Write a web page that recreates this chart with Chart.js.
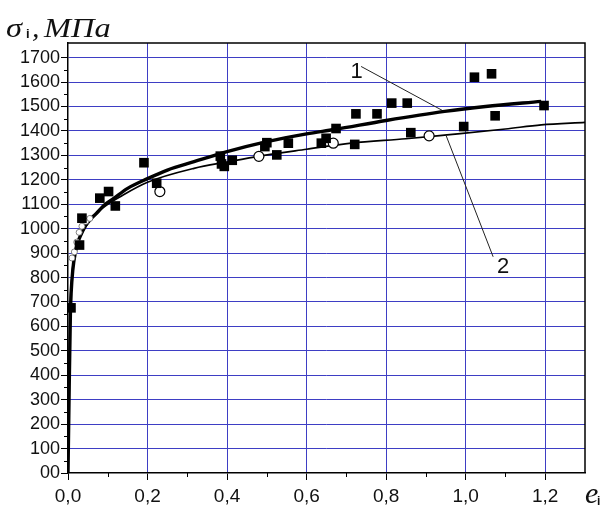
<!DOCTYPE html>
<html>
<head>
<meta charset="utf-8">
<script src="https://cdn.jsdelivr.net/npm/chart.js@4.4.0/dist/chart.umd.min.js"></script>
<style>
  html, body { margin: 0; padding: 0; background: #fff; }
</style>
</head>
<body>
<canvas id="chart" width="606" height="506"></canvas>
<script>
// ---- values ----

// black squares
const squareX = [0.0075, 0.029, 0.035, 0.080, 0.102, 0.119, 0.191, 0.223, 0.383, 0.386,
                 0.393, 0.413, 0.495, 0.500, 0.525, 0.554, 0.637, 0.649, 0.674, 0.721,
                 0.724, 0.777, 0.814, 0.853, 0.862, 0.995, 1.022, 1.065, 1.074, 1.197];
const squareY = [676, 933, 1043, 1125, 1152, 1093, 1270, 1186, 1297, 1265,
                 1255, 1280, 1336, 1352, 1302, 1350, 1350, 1370, 1410, 1345,
                 1470, 1470, 1514, 1514, 1393, 1418, 1620, 1634, 1462, 1504];

// open circles
const circleX = [0.231, 0.480, 0.667, 0.908];
const circleY = [1152, 1296, 1350, 1380];

// small open circles near the origin
const dotX = [0.010, 0.016, 0.022, 0.028, 0.035, 0.045, 0.055];
const dotY = [880, 905, 945, 985, 1010, 1030, 1042];

// curve 1 (thick)
const curve1X = [0, 0.003, 0.006, 0.008, 0.012, 0.018, 0.025, 0.031, 0.045, 0.06, 0.073, 0.09,
                 0.115, 0.15, 0.2, 0.25, 0.317, 0.4, 0.5, 0.6, 0.67, 0.8, 0.947, 1.05, 1.19];
const curve1Y = [0, 350, 650, 740, 830, 900, 945, 970, 1015, 1045, 1065, 1095,
                 1124, 1165, 1205, 1240, 1274, 1315, 1356, 1388, 1406, 1443, 1480, 1500, 1521];

// curve 2 (thin)
const curve2X = [0, 0.003, 0.006, 0.009, 0.013, 0.02, 0.03, 0.045, 0.06, 0.08, 0.1, 0.13,
                 0.2, 0.317, 0.4, 0.485, 0.6, 0.712, 0.85, 0.953, 1.1, 1.19, 1.3];
const curve2Y = [0, 400, 700, 780, 860, 920, 965, 1010, 1040, 1075, 1100, 1130,
                 1190, 1247, 1273, 1298, 1325, 1350, 1368, 1384, 1408, 1425, 1435];

// leader lines and their numbers
const lead1X = [0.737, 0.947];
const lead1Y = [1664, 1479];
const lead2X = [0.951, 1.069];
const lead2Y = [1380, 885];
const labelText = ["1", "2"];
const labelX = [0.726, 1.094];
const labelY = [1640, 844];

// ticks
const xTicks = [0, 0.2, 0.4, 0.6, 0.8, 1.0, 1.2];
const xMinor = [0.1, 0.3, 0.5, 0.7, 0.9, 1.1];
const yTicks = [0, 100, 200, 300, 400, 500, 600, 700, 800, 900,
                1000, 1100, 1200, 1300, 1400, 1500, 1600, 1700];
const yMinor = [50, 150, 250, 350, 450, 550, 650, 750, 850, 950,
                1050, 1150, 1250, 1350, 1450, 1550, 1650];

const gridBlue = "rgb(62, 62, 196)";

function toPts(xs, ys) {
  return xs.map((x, i) => ({ x: x, y: ys[i] }));
}

// draws text stretched horizontally
function drawText(ctx, txt, x, y, font, sx) {
  ctx.save();
  ctx.font = font;
  ctx.translate(x, y);
  ctx.scale(sx, 1);
  ctx.fillText(txt, 0, 0);
  ctx.restore();
}

const extras = {
  id: "extras",
  afterDraw(chart) {
    const ctx = chart.ctx;
    const a = chart.chartArea;
    const xs = chart.scales.x;
    const ys = chart.scales.y;

    ctx.save();
    ctx.strokeStyle = "#000";
    ctx.lineWidth = 1.5;
    ctx.beginPath();
    ctx.moveTo(a.left, a.top);
    ctx.lineTo(a.right, a.top);
    ctx.lineTo(a.right, a.bottom);
    ctx.stroke();

    // minor ticks
    ctx.lineWidth = 1;
    ctx.beginPath();
    yMinor.forEach(v => {
      const py = Math.round(ys.getPixelForValue(v)) + 0.5;
      ctx.moveTo(a.left - 4, py);
      ctx.lineTo(a.left, py);
    });
    xMinor.forEach(v => {
      const px = Math.round(xs.getPixelForValue(v)) + 0.5;
      ctx.moveTo(px, a.bottom);
      ctx.lineTo(px, a.bottom + 4);
    });
    ctx.stroke();

    ctx.fillStyle = "#111";
    ctx.textBaseline = "alphabetic";
    ctx.textAlign = "left";

    // axis titles
    drawText(ctx, "σ", 6, 37, "italic 27px 'Liberation Serif'", 1.2);
    drawText(ctx, "i", 26, 38, "bold 13px 'Liberation Sans'", 1.0);
    drawText(ctx, ",", 32, 37, "italic 27px 'Liberation Serif'", 1.1);
    drawText(ctx, "МПа", 44, 37, "italic 27px 'Liberation Serif'", 1.2);
    drawText(ctx, "e", 585, 503, "italic 30px 'Liberation Serif'", 1.0);
    drawText(ctx, "i", 597, 505, "bold 12px 'Liberation Sans'", 1.0);

    // curve numbers
    ctx.textAlign = "center";
    ctx.textBaseline = "middle";
    ctx.font = "22px 'Liberation Sans'";
    labelText.forEach((t, i) => {
      ctx.fillText(t, xs.getPixelForValue(labelX[i]), ys.getPixelForValue(labelY[i]));
    });
    ctx.restore();
  }
};

const ctx = document.getElementById("chart").getContext("2d");
new Chart(ctx, {
  type: "scatter",
  data: {
    datasets: [
      {
        data: toPts(squareX, squareY),
        pointStyle: "rect",
        pointRadius: 6.8,
        backgroundColor: "#000",
        borderColor: "#000",
        borderWidth: 0
      },
      {
        data: toPts(circleX, circleY),
        pointStyle: "circle",
        pointRadius: 5,
        backgroundColor: "#fff",
        borderColor: "#000",
        borderWidth: 1.2
      },
      {
        data: toPts(dotX, dotY),
        pointStyle: "circle",
        pointRadius: 3,
        backgroundColor: "#fff",
        borderColor: "#666",
        borderWidth: 0.8
      },
      {
        type: "line",
        data: toPts(curve1X, curve1Y),
        borderColor: "#000",
        borderWidth: 3.4,
        pointRadius: 0,
        cubicInterpolationMode: "monotone",
        fill: false
      },
      {
        type: "line",
        data: toPts(curve2X, curve2Y),
        borderColor: "#000",
        borderWidth: 1.7,
        pointRadius: 0,
        cubicInterpolationMode: "monotone",
        fill: false
      },
      {
        type: "line",
        data: toPts(lead1X, lead1Y),
        borderColor: "#222",
        borderWidth: 1,
        pointRadius: 0,
        fill: false
      },
      {
        type: "line",
        data: toPts(lead2X, lead2Y),
        borderColor: "#222",
        borderWidth: 1,
        pointRadius: 0,
        fill: false
      }
    ]
  },
  options: {
    responsive: false,
    animation: false,
    layout: { padding: { top: 43, right: 21, left: 0, bottom: 0 } },
    plugins: {
      legend: { display: false },
      tooltip: { enabled: false }
    },
    scales: {
      x: {
        type: "linear",
        min: 0,
        max: 1.3,
        afterBuildTicks: s => { s.ticks = xTicks.map(v => ({ value: v })); },
        afterFit: s => { s.height = 33; },
        ticks: {
          callback: v => v.toFixed(1).replace(".", ","),
          font: { family: "'Liberation Sans'", size: 19 },
          color: "#111",
          padding: 5,
          maxRotation: 0,
          autoSkip: false
        },
        grid: {
          color: c => (c.tick && c.tick.value === 0) ? "rgba(0,0,0,0)" : gridBlue,
          lineWidth: 1,
          tickColor: "#000",
          tickLength: 7
        },
        border: { color: "#000", width: 1.5 }
      },
      y: {
        type: "linear",
        min: 0,
        max: 1760,
        afterBuildTicks: s => { s.ticks = yTicks.map(v => ({ value: v })); },
        afterFit: s => { s.width = 68; },
        ticks: {
          callback: v => (v === 0 ? "00" : String(v)),
          font: { family: "'Liberation Sans'", size: 18 },
          color: "#111",
          padding: 1,
          autoSkip: false
        },
        grid: {
          color: c => (c.tick && c.tick.value === 0) ? "rgba(0,0,0,0)" : gridBlue,
          lineWidth: 1,
          tickColor: "#000",
          tickLength: 7
        },
        border: { color: "#000", width: 1.5 }
      }
    }
  },
  plugins: [extras]
});
</script>
</body>
</html>
